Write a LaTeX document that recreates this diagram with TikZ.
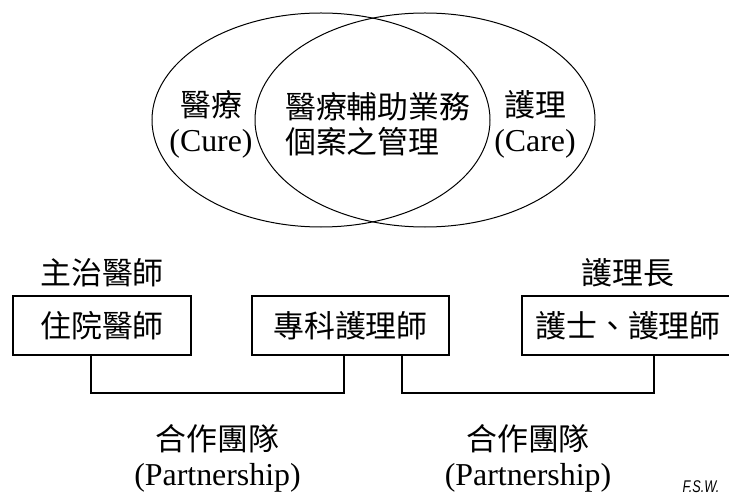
\documentclass[tikz,border=0pt]{standalone}
\usepackage{graphicx}
\usepackage{fontspec}
\setmainfont{Liberation Serif}
\setsansfont{Liberation Sans}
\newfontfamily\cjk{Noto Sans CJK TC}
\usetikzlibrary{positioning}

\newcommand{\zh}[1]{{\cjk\fontsize{31}{35}\selectfont #1}}

\tikzset{
  word/.style={inner sep=0pt, font=\fontsize{32}{35}\selectfont},
  staff/.style={draw, line width=1.2bp, inner sep=0pt, minimum height=59bp,
                font=\fontsize{32}{35}\selectfont},
  link/.style={line width=1.2bp},
  circ/.style={line width=1bp},
}

\begin{document}
\begin{tikzpicture}[x=1bp, y=1bp, node distance=8bp]
  \useasboundingbox (0,0) rectangle (729,-496);
  \clip (0,0) rectangle (729,-496);

  % overlap of cure and care
  \draw[circ] (321,-120) ellipse [x radius=169bp, y radius=107bp];
  \draw[circ] (425,-120) ellipse [x radius=170bp, y radius=107bp];
  \node[word, align=center]            (cure) at (211,-124) {\zh{醫療}\\(Cure)};
  \node[word, align=left, anchor=west] (aux)  at (285,-124) {\zh{醫療輔助業務}\\\zh{個案之管理}};
  \node[word, align=center]            (care) at (535,-124) {\zh{護理}\\(Care)};

  % team
  \node[staff, minimum width=178bp] (res) at (102,-325.5)   {\zh{住院醫師}};
  \node[staff, minimum width=197bp] (np)  at (350.5,-325.5) {\zh{專科護理師}};
  \node[staff, minimum width=212bp] (rn)  at (628,-325.5)   {\zh{護士、護理師}};
  \node[word] (att) [above=of res] {\zh{主治醫師}};
  \node[word] (hn)  [above=of rn]  {\zh{護理長}};

  \coordinate (j1) at (91,-393);
  \coordinate (j2) at (344,-393);
  \coordinate (j3) at (402,-393);
  \coordinate (j4) at (654,-393);
  \coordinate (m1) at (217.5,-393);
  \coordinate (m2) at (528,-393);

  \draw[link] (res.south -| j1) -- (j1) -- (j2) -- (np.south -| j2);
  \draw[link] (np.south -| j3)  -- (j3) -- (j4) -- (rn.south -| j4);

  \node[word, align=center] (team1) [below=31bp of m1] {\zh{合作團隊}\\(Partnership)};
  \node[word, align=center] (team2) [below=31bp of m2] {\zh{合作團隊}\\(Partnership)};

  \node[font=\sffamily\itshape\fontsize{17}{19}\selectfont] (fsw) at (701,-487) {\scalebox{0.75}[1]{F.S.W.}};
\end{tikzpicture}
\end{document}
